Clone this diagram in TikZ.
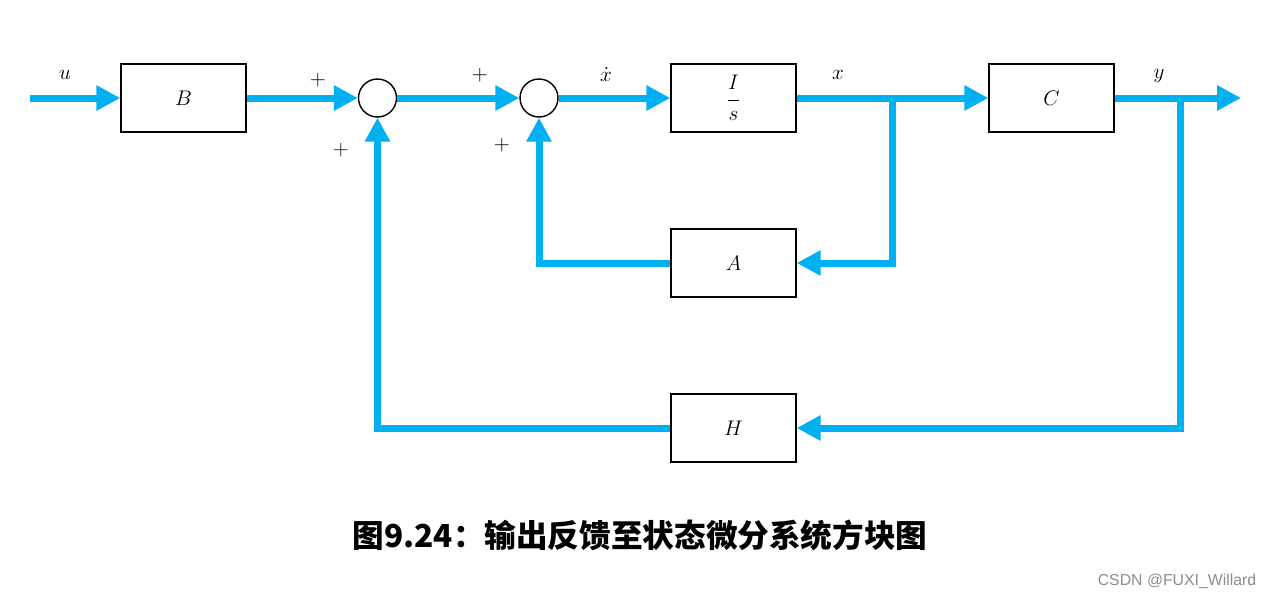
\documentclass[tikz,border=0pt]{standalone}
\usepackage{amsmath}
\usepackage{fontspec}
\newfontfamily\cjkfont{Noto Sans CJK SC}
\newfontfamily\markfont{Liberation Sans}
\usetikzlibrary{positioning, arrows.meta, calc}
\definecolor{sigblue}{HTML}{00B0F0}
\tikzset{
  block/.style={rectangle, draw=black, line width=0.8pt, minimum width=2.5cm, minimum height=1.36cm, text centered, font=\fontsize{12}{14}\selectfont},
  sumnode/.style={circle, draw=black, line width=0.8pt, minimum size=0.76cm, inner sep=0pt},
  signal/.style={draw=sigblue, line width=0.14cm},
  arrow/.style={signal, -{Triangle[length=0.48cm, width=0.48cm]}},
  sign/.style={font=\fontsize{12}{14}\selectfont, inner sep=1pt},
  siglabel/.style={font=\fontsize{12}{14}\selectfont, inner sep=1pt}
}

\begin{document}
\begin{tikzpicture}[x=0.02cm, y=-0.02cm]

    % Marco
    \useasboundingbox (0,0) rectangle (1273,599);

    % Bloques
    \node[block] (B) at (183.5,98) {$B$};
    \node[sumnode] (S1) at (377.5,98) {};
    \node[sumnode] (S2) at (539,98) {};
    \node[block] (Int) at (733.5,98) {$\dfrac{I\rule[-4pt]{0pt}{4pt}}{\rule{0pt}{10pt}s}$};
    \node[block] (C) at (1051.5,98) {$C$};
    \node[block] (A) at (733.5,263) {$A$};
    \node[block] (H) at (733.5,428) {$H$};

    % Puntos de entrada, salida y ramificacion
    \coordinate (in) at (30,98);
    \coordinate (out) at (1241,98);
    \coordinate (bx) at (892,98);
    \coordinate (by) at (1180,98);

    % Camino directo
    \draw[arrow] (in) -- (B.west);
    \draw[arrow] (B.east) -- (S1.west);
    \draw[arrow] (S1.east) -- (S2.west);
    \draw[arrow] (S2.east) -- (Int.west);
    \draw[arrow] (Int.east) -- (C.west);
    \draw[arrow] (C.east) -- (out);

    % Realimentaciones
    \draw[arrow] (bx) |- (A.east);
    \draw[arrow] (A.west) -| (S2.south);
    \draw[arrow] (by) |- (H.east);
    \draw[arrow] (H.west) -| (S1.south);

    % Etiquetas de senales
    \node[siglabel] (lu) at (65,75) {$u$};
    \node[siglabel] (lxd) at (606,74) {$\dot{x}$};
    \node[siglabel] (lx) at (838,75) {$x$};
    \node[siglabel] (ly) at (1159,76) {$y$};

    % Signos
    \node[sign] (p1) at (318,80) {$+$};
    \node[sign] (p2) at (341,150) {$+$};
    \node[sign] (p3) at (480,75) {$+$};
    \node[sign] (p4) at (502,145) {$+$};

    % Titulo
    \node[font=\cjkfont\bfseries\fontsize{18}{22}\selectfont] (title) at (640,535) {图9.24：输出反馈至状态微分系统方块图};

    % Marca de agua
    \node[font=\markfont\fontsize{9}{11}\selectfont, text=black!45] (mark) at (1177,581) {CSDN @FUXI\_Willard};

\end{tikzpicture}
\end{document}
